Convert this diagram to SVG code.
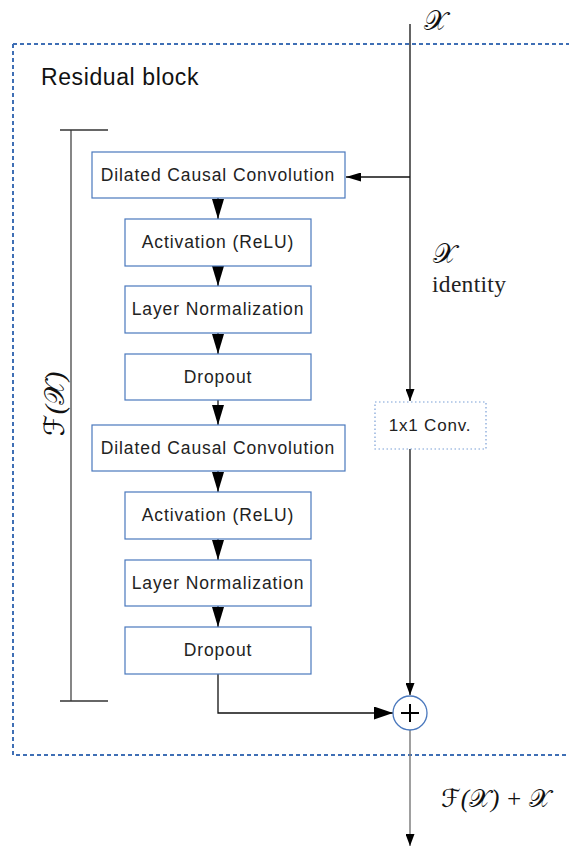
<svg xmlns="http://www.w3.org/2000/svg" width="569" height="848" viewBox="0 0 569 848">
  <defs>
    <!-- arrowheads sized in user units: length x width -->
    <marker id="arr" viewBox="0 0 12 9" refX="12" refY="4.5" markerWidth="12" markerHeight="9" markerUnits="userSpaceOnUse" orient="auto">
      <path d="M0,0 L12,4.5 L0,9 Z" fill="#000"/>
    </marker>
    <marker id="arrIn" viewBox="0 0 15 9" refX="15" refY="4.5" markerWidth="15" markerHeight="9" markerUnits="userSpaceOnUse" orient="auto">
      <path d="M0,0 L15,4.5 L0,9 Z" fill="#000"/>
    </marker>
    <marker id="arrDown" viewBox="0 0 20 12" refX="20" refY="6" markerWidth="20" markerHeight="12" markerUnits="userSpaceOnUse" orient="auto">
      <path d="M0,0 L20,6 L0,12 Z" fill="#000"/>
    </marker>
    <marker id="arrSum" viewBox="0 0 19 13" refX="19" refY="6.5" markerWidth="19" markerHeight="13" markerUnits="userSpaceOnUse" orient="auto">
      <path d="M0,0 L19,6.5 L0,13 Z" fill="#000"/>
    </marker>
  </defs>
  <style>
    .box { fill: #fff; stroke: #4a78bd; stroke-width: 1.2; }
    .lbl { font-family: "Liberation Sans", Arial, sans-serif; font-size: 17.5px; fill: #222; text-anchor: middle; letter-spacing: 0.9px; }
    .math { font-family: "DejaVu Sans", "Noto Sans", serif; fill: #111; }
    .par { font-family: "Liberation Serif", serif; font-style: italic; }
    .wire { stroke: #111; stroke-width: 1.3; fill: none; }
  </style>

  <!-- residual block frame -->
  <g id="frame">
    <path d="M13,44 H575 M13,44 V755 H575" fill="none" stroke="#3f6fb5" stroke-width="2" stroke-dasharray="4 3"/>
    <text x="41" y="85" font-family="Liberation Sans, Arial, sans-serif" font-size="23" letter-spacing="0.6" fill="#111">Residual block</text>
  </g>

  <!-- F(X) bracket -->
  <g id="bracket">
    <line x1="71" y1="130" x2="71" y2="701" stroke="#444" stroke-width="1.3"/>
    <line x1="60" y1="130" x2="108" y2="130" stroke="#333" stroke-width="1.3"/>
    <line x1="60" y1="701" x2="108" y2="701" stroke="#333" stroke-width="1.3"/>
    <text class="math" font-size="28" transform="translate(64,404) rotate(-90)" text-anchor="middle">ℱ<tspan class="par">(</tspan>𝒳<tspan class="par">)</tspan></text>
  </g>

  <!-- connectors -->
  <g id="connectors">
    <line class="wire" x1="410" y1="24" x2="410" y2="401" marker-end="url(#arr)"/>
    <line class="wire" x1="410" y1="177" x2="346" y2="177" marker-end="url(#arrIn)"/>
    <line class="wire" x1="218" y1="198" x2="218" y2="219" marker-end="url(#arrDown)"/>
    <line class="wire" x1="218" y1="266" x2="218" y2="286" marker-end="url(#arrDown)"/>
    <line class="wire" x1="218" y1="333" x2="218" y2="354" marker-end="url(#arrDown)"/>
    <line class="wire" x1="218" y1="400" x2="218" y2="425" marker-end="url(#arrDown)"/>
    <line class="wire" x1="218" y1="471" x2="218" y2="492" marker-end="url(#arrDown)"/>
    <line class="wire" x1="218" y1="539" x2="218" y2="560" marker-end="url(#arrDown)"/>
    <line class="wire" x1="218" y1="606" x2="218" y2="627" marker-end="url(#arrDown)"/>
    <line class="wire" x1="410" y1="449" x2="410" y2="695" marker-end="url(#arr)"/>
    <path class="wire" d="M218,674 V713 H393" marker-end="url(#arrSum)"/>
    <line x1="410" y1="730" x2="410" y2="846" stroke="#777" stroke-width="1.4" marker-end="url(#arr)"/>
  </g>

  <!-- processing stages -->
  <g id="dcc1"><rect class="box" x="92" y="152" width="253" height="46"/><text class="lbl" x="218" y="181">Dilated Causal Convolution</text></g>
  <g id="act1"><rect class="box" x="125" y="219" width="186" height="47"/><text class="lbl" x="218" y="248">Activation (ReLU)</text></g>
  <g id="norm1"><rect class="box" x="125" y="286" width="186" height="47"/><text class="lbl" x="218" y="315">Layer Normalization</text></g>
  <g id="drop1"><rect class="box" x="125" y="354" width="186" height="46"/><text class="lbl" x="218" y="383">Dropout</text></g>
  <g id="dcc2"><rect class="box" x="92" y="425" width="253" height="46"/><text class="lbl" x="218" y="454">Dilated Causal Convolution</text></g>
  <g id="act2"><rect class="box" x="125" y="492" width="186" height="47"/><text class="lbl" x="218" y="521">Activation (ReLU)</text></g>
  <g id="norm2"><rect class="box" x="125" y="560" width="186" height="46"/><text class="lbl" x="218" y="589">Layer Normalization</text></g>
  <g id="drop2"><rect class="box" x="125" y="627" width="186" height="47"/><text class="lbl" x="218" y="656">Dropout</text></g>

  <!-- 1x1 convolution on the skip path -->
  <g id="conv1x1">
    <rect x="375" y="402" width="111" height="47" fill="#fff" stroke="#7a9fd6" stroke-width="1.2" stroke-dasharray="1.5 2.5"/>
    <text x="430" y="431" font-family="Liberation Sans, Arial, sans-serif" font-size="17" letter-spacing="0.8" fill="#222" text-anchor="middle">1x1 Conv.</text>
  </g>

  <!-- summation node -->
  <g id="sum">
    <circle cx="410" cy="713" r="17" fill="#fff" stroke="#4a78bd" stroke-width="1.3"/>
    <path d="M401,713 H419 M410,704 V722" stroke="#000" stroke-width="2"/>
  </g>

  <!-- signal labels -->
  <g id="labels">
    <text class="math" x="424" y="30" font-size="27">𝒳</text>
    <text class="math" x="433" y="263" font-size="27">𝒳</text>
    <text x="432" y="292" font-family="Liberation Serif, serif" font-size="23.5" letter-spacing="0.3" fill="#222">identity</text>
    <text class="math" x="441" y="807" font-size="25">ℱ<tspan class="par">(</tspan>𝒳<tspan class="par">) + </tspan>𝒳</text>
  </g>
</svg>
